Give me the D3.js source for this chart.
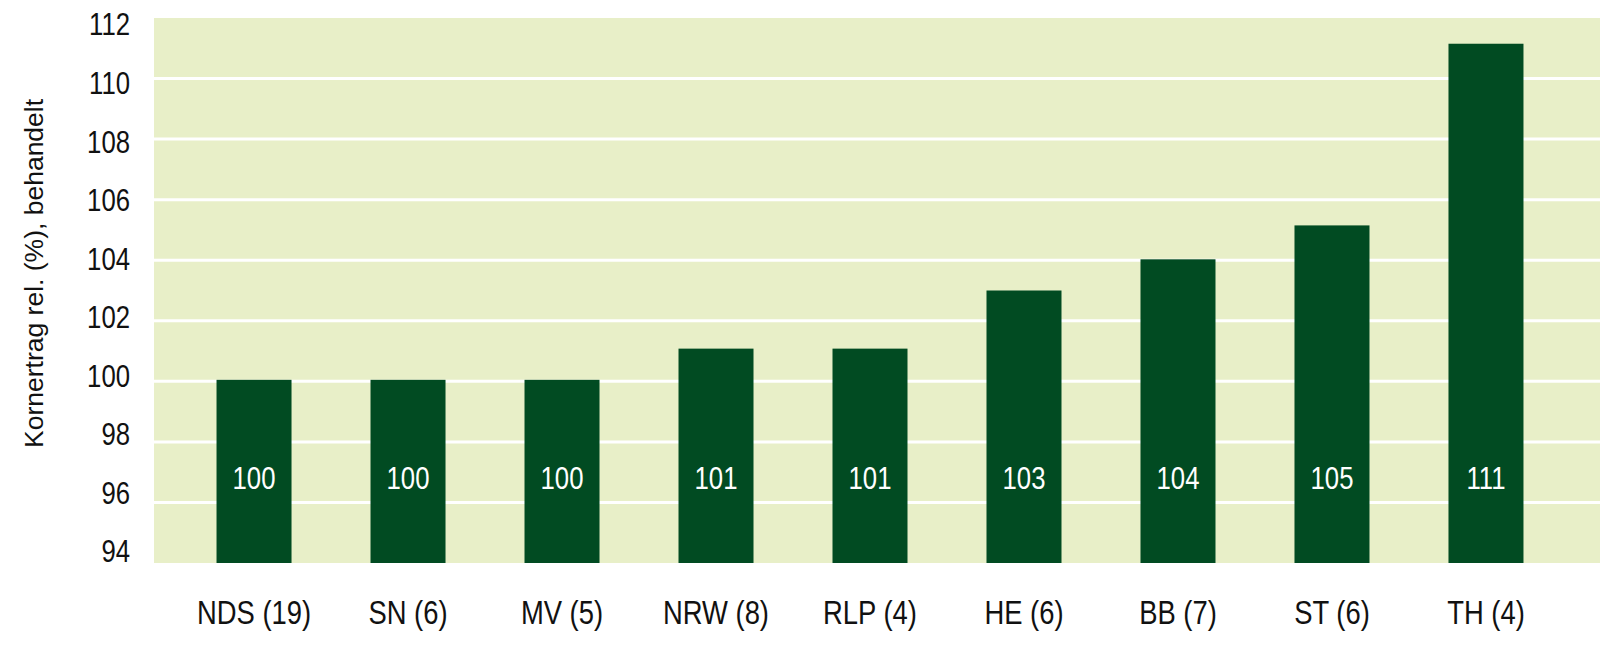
<!DOCTYPE html>
<html>
<head>
<meta charset="utf-8">
<script src="https://cdn.jsdelivr.net/npm/d3@7"></script>
<style>
  body { margin: 0; background: #fff; }
  svg { display: block; }
</style>
</head>
<body>
<svg width="1600" height="646"></svg>
<script>
// data
var laender = ["NDS (19)", "SN (6)", "MV (5)", "NRW (8)", "RLP (4)", "HE (6)", "BB (7)", "ST (6)", "TH (4)"]
var ertrag = [100.05, 100.05, 100.05, 101.08, 101.08, 103.0, 104.03, 105.15, 111.15]
var etiketten = ["100", "100", "100", "101", "101", "103", "104", "105", "111"]
var yTicks = [94, 96, 98, 100, 102, 104, 106, 108, 110, 112]

var svg = d3.select("svg")
// no condensed font installed, so squeeze Liberation Sans horizontally
var font = "'Liberation Sans', Arial, sans-serif"
var squeeze = "scale(0.83,1)"

var mLeft = 154, mTop = 18, mBottom = 563, mRight = 1600

var x = d3.scaleBand()
  .domain(laender)
  .range([mLeft, 1586])
  .paddingInner(0.513)
  .paddingOuter(0.406)

var y = d3.scaleLinear().domain([94, 112]).range([mBottom, mTop])
// tick labels sit on a slightly tighter grid than the lines in the original
var yLab = d3.scaleLinear().domain([94, 112]).range([552, 25])

// achtergrond
svg.append("rect")
  .attr("x", mLeft).attr("y", mTop)
  .attr("width", mRight - mLeft).attr("height", mBottom - mTop)
  .style("fill", "#e8efc8")

// rasterlijnen
svg.selectAll("line.grid")
  .data(yTicks.filter(function(d) { return d > 94 && d < 112 }))
  .enter().append("line")
    .attr("class", "grid")
    .attr("x1", mLeft).attr("x2", mRight)
    .attr("y1", function(d) { return y(d) })
    .attr("y2", function(d) { return y(d) })
    .style("stroke", "#fff")
    .style("stroke-width", 3)

// staven
svg.selectAll("rect.bar")
  .data(ertrag)
  .enter().append("rect")
    .attr("class", "bar")
    .attr("x", function(d, i) { return x(laender[i]) })
    .attr("y", function(d) { return y(d) })
    .attr("width", x.bandwidth())
    .attr("height", function(d) { return y(94) - y(d) })
    .style("fill", "#014b22")

// waarden in de staven
svg.selectAll("g.val")
  .data(etiketten)
  .enter().append("g")
    .attr("class", "val")
    .attr("transform", function(d, i) {
      return "translate(" + (x(laender[i]) + x.bandwidth() / 2) + "," + (y(94) - 85) + ")"
    })
  .append("text")
    .attr("transform", squeeze)
    .attr("dy", "0.35em")
    .attr("text-anchor", "middle")
    .style("font-family", font)
    .style("font-size", "31px")
    .style("fill", "#fff")
    .text(function(d) { return d })

// y-as
var yAxis = svg.append("g")
  .attr("transform", "translate(130,0)")
  .call(d3.axisLeft(yLab).tickValues(yTicks).tickSize(0).tickPadding(0))
yAxis.select(".domain").remove()
yAxis.selectAll("text")
  .attr("transform", squeeze)
  .style("font-family", font)
  .style("font-size", "31px")
  .style("fill", "#111")

// x-as labels
var xAxis = svg.append("g")
  .attr("transform", "translate(0," + mBottom + ")")
  .call(d3.axisBottom(x).tickSize(0).tickPadding(0))
xAxis.select(".domain").remove()
xAxis.selectAll("text")
  .attr("y", 61)
  .attr("dy", 0)
  .attr("transform", squeeze)
  .style("font-family", font)
  .style("font-size", "33px")
  .style("fill", "#111")

// as-titel
svg.append("text")
  .attr("transform", "translate(43,448) rotate(-90)")
  .attr("text-anchor", "start")
  .style("font-family", font)
  .style("font-size", "26.5px")
  .style("fill", "#111")
  .text("Kornertrag rel. (%), behandelt")
</script>
</body>
</html>
